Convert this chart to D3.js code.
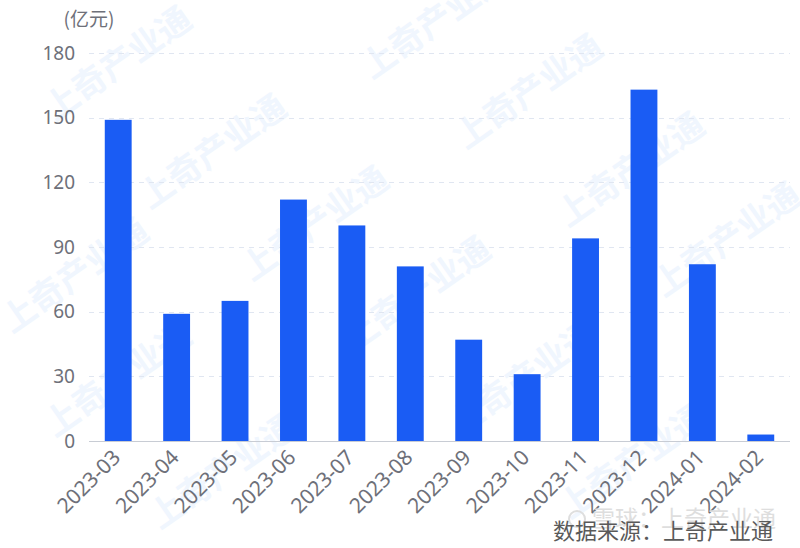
<!DOCTYPE html>
<html><head><meta charset="utf-8">
<script src="https://cdn.jsdelivr.net/npm/d3@7"></script>
<style>body{margin:0;background:#fff}svg{display:block}</style>
</head><body><svg id="c" width="800" height="548"></svg>
<script>
const categories = ["2023-03","2023-04","2023-05","2023-06","2023-07","2023-08","2023-09","2023-10","2023-11","2023-12","2024-01","2024-02"];
const values = [149, 59, 65, 112, 100, 81, 47, 31, 94, 163, 82, 3];
const yTicks = [0, 30, 60, 90, 120, 150, 180];
const unitLabel = "(亿元)";
const sourceLabel = "数据来源：上奇产业通";
const overlayLabel = "雪球：上奇产业通";
const watermarkText = "上奇产业通";

const svg = d3.select("#c");
const W = 800, H = 548;
const m = {left: 89, right: 10, top: 53, bottom: 107};
const x = d3.scaleBand().domain(categories).range([m.left, W - m.right]).paddingInner(0.54).paddingOuter(0.27);
const y = d3.scaleLinear().domain([0, 180]).range([H - m.bottom, m.top]);
const font = "'Noto Sans', 'Noto Sans CJK SC', sans-serif";
const cjk = "'Noto Sans CJK SC', sans-serif";

// faint watermarks
const wm = svg.append("g").attr("fill", "#f0f6fe").attr("font-family", cjk)
  .attr("font-size", 34).attr("font-weight", "bold");
const wmPos = [[55,122],[150,210],[252,282],[354,352],[460,437],[372,80],[466,150],[568,228],[664,298],[12,334],[55,438],[160,530],[570,520]];
wmPos.forEach(([px, py]) => {
  wm.append("text").attr("transform", `translate(${px},${py}) rotate(-35)`).text(watermarkText);
});

// gridlines
svg.append("g").selectAll("line").data(yTicks.filter(d => d > 0)).join("line")
  .attr("x1", m.left).attr("x2", W - m.right)
  .attr("y1", d => Math.round(y(d)) + 0.5).attr("y2", d => Math.round(y(d)) + 0.5)
  .attr("stroke", "#e0e6f1").attr("stroke-width", 1).attr("stroke-dasharray", "5,5");

// bars
svg.append("g").selectAll("rect").data(values).join("rect")
  .attr("x", (d, i) => x(categories[i]))
  .attr("width", x.bandwidth())
  .attr("y", d => y(d))
  .attr("height", d => y(0) - y(d))
  .attr("fill", "#1a5cf4");

// x axis line
svg.append("line").attr("x1", m.left).attr("x2", W - m.right)
  .attr("y1", Math.round(y(0)) + 0.5).attr("y2", Math.round(y(0)) + 0.5).attr("stroke", "#c8ccd4").attr("stroke-width", 1);

// y axis labels
const yAxis = d3.axisLeft(y).tickValues(yTicks).tickSize(0).tickPadding(14);
const yg = svg.append("g").attr("transform", `translate(${m.left},0)`).call(yAxis);
yg.select(".domain").remove();
yg.selectAll("text").attr("font-family", font).attr("font-size", 19).attr("fill", "#6e7079");

// x axis labels
const xAxis = d3.axisBottom(x).tickSize(0).tickPadding(0);
const xg = svg.append("g").attr("transform", `translate(0,${y(0)})`).call(xAxis);
xg.select(".domain").remove();
xg.selectAll("text").attr("font-family", font).attr("font-size", 21).attr("fill", "#6e7079")
  .attr("text-anchor", "end").attr("dy", "0").attr("y", 0).attr("x", 0)
  .attr("dominant-baseline", "central")
  .attr("transform", "translate(-2,12) rotate(-45)");

// unit label
svg.append("text").attr("x", m.left).attr("y", 26).attr("text-anchor", "middle")
  .attr("font-family", cjk).attr("font-size", 19).attr("fill", "#6e7079").text(unitLabel);

// source + overlay watermark
const ov = svg.append("g").attr("fill", "#dedede");
ov.append("circle").attr("cx", 577).attr("cy", 519).attr("r", 8).attr("fill", "none").attr("stroke", "#dedede").attr("stroke-width", 2);
ov.append("text").attr("x", 592).attr("y", 527).attr("font-family", cjk).attr("font-size", 23).text(overlayLabel);
svg.append("text").attr("x", 773).attr("y", 539).attr("text-anchor", "end")
  .attr("font-family", cjk).attr("font-size", 22).attr("fill", "#5a5a5a").text(sourceLabel);
</script></body></html>
